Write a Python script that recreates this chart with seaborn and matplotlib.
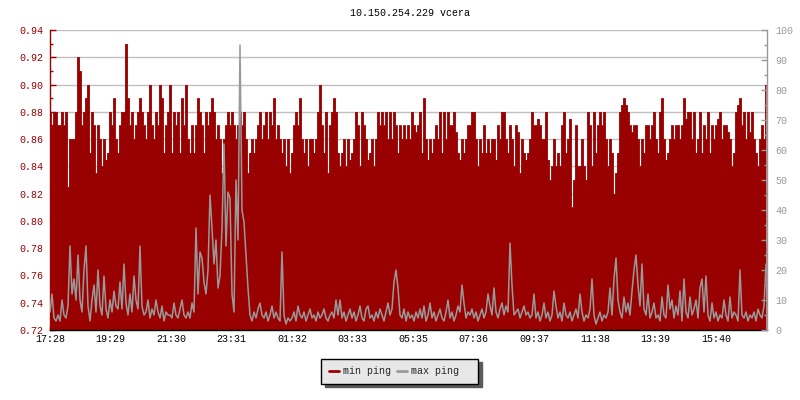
import numpy as np
import pandas as pd
import matplotlib
matplotlib.use("Agg")
import matplotlib.pyplot as plt
from matplotlib.lines import Line2D
from matplotlib.ticker import MultipleLocator, FormatStrFormatter
import seaborn as sns

# --- data: one sample every 4 minutes, starting at 17:28 ---
title = "10.150.254.229 vcera"
step_min = 4
tick_labels = ["17:28", "19:29", "21:30", "23:31", "01:32", "03:33",
               "05:35", "07:36", "09:37", "11:38", "13:39", "15:40"]
tick_every_min = 121.08

# min ping (ms), left axis
min_ping = [
    0.88, 0.87, 0.88, 0.88, 0.87, 0.87, 0.88, 0.87, 0.88, 0.825,
    0.86, 0.86, 0.86, 0.88, 0.92, 0.91, 0.87, 0.88, 0.89, 0.90,
    0.85, 0.88, 0.87, 0.835, 0.87, 0.86, 0.84, 0.86, 0.845, 0.85,
    0.88, 0.87, 0.89, 0.86, 0.85, 0.87, 0.88, 0.88, 0.93, 0.89,
    0.87, 0.88, 0.86, 0.87, 0.88, 0.89, 0.88, 0.87, 0.86, 0.88,
    0.90, 0.87, 0.86, 0.88, 0.87, 0.90, 0.89, 0.85, 0.87, 0.88,
    0.90, 0.85, 0.88, 0.87, 0.88, 0.85, 0.89, 0.87, 0.90, 0.86,
    0.85, 0.87, 0.85, 0.87, 0.89, 0.88, 0.87, 0.85, 0.88, 0.87,
    0.88, 0.89, 0.88, 0.86, 0.87, 0.86, 0.835, 0.86, 0.87, 0.88,
    0.87, 0.88, 0.87, 0.86, 0.87, 0.88, 0.87, 0.88, 0.86, 0.835,
    0.85, 0.86, 0.85, 0.86, 0.87, 0.88, 0.86, 0.87, 0.88, 0.86,
    0.88, 0.87, 0.89, 0.86, 0.87, 0.86, 0.85, 0.86, 0.84, 0.86,
    0.835, 0.85, 0.87, 0.88, 0.87, 0.89, 0.86, 0.85, 0.86, 0.84,
    0.86, 0.86, 0.85, 0.86, 0.88, 0.90, 0.87, 0.85, 0.88, 0.835,
    0.87, 0.88, 0.89, 0.88, 0.85, 0.84, 0.85, 0.86, 0.84, 0.86,
    0.845, 0.85, 0.86, 0.88, 0.87, 0.84, 0.88, 0.87, 0.86, 0.845,
    0.85, 0.86, 0.84, 0.86, 0.88, 0.87, 0.88, 0.87, 0.88, 0.86,
    0.88, 0.86, 0.88, 0.87, 0.85, 0.87, 0.86, 0.87, 0.86, 0.87,
    0.86, 0.88, 0.87, 0.865, 0.87, 0.88, 0.85, 0.89, 0.86, 0.845,
    0.86, 0.85, 0.86, 0.87, 0.86, 0.88, 0.85, 0.88, 0.86, 0.88,
    0.87, 0.87, 0.88, 0.865, 0.85, 0.845, 0.86, 0.85, 0.86, 0.87,
    0.87, 0.88, 0.88, 0.86, 0.84, 0.86, 0.85, 0.87, 0.85, 0.86,
    0.85, 0.86, 0.86, 0.845, 0.87, 0.86, 0.88, 0.88, 0.86, 0.85,
    0.87, 0.86, 0.84, 0.87, 0.865, 0.835, 0.86, 0.85, 0.845, 0.85,
    0.86, 0.88, 0.87, 0.87, 0.875, 0.87, 0.86, 0.86, 0.88, 0.845,
    0.83, 0.84, 0.86, 0.84, 0.85, 0.84, 0.87, 0.88, 0.85, 0.86,
    0.875, 0.81, 0.83, 0.87, 0.84, 0.84, 0.86, 0.84, 0.83, 0.88,
    0.87, 0.84, 0.88, 0.85, 0.87, 0.88, 0.87, 0.88, 0.86, 0.84,
    0.86, 0.85, 0.82, 0.835, 0.85, 0.88, 0.885, 0.89, 0.885, 0.88,
    0.87, 0.865, 0.87, 0.87, 0.86, 0.84, 0.86, 0.85, 0.87, 0.87,
    0.86, 0.87, 0.88, 0.86, 0.85, 0.88, 0.89, 0.86, 0.845, 0.85,
    0.86, 0.87, 0.86, 0.87, 0.87, 0.86, 0.87, 0.89, 0.875, 0.88,
    0.88, 0.86, 0.88, 0.85, 0.86, 0.88, 0.85, 0.87, 0.86, 0.88,
    0.85, 0.87, 0.86, 0.87, 0.875, 0.88, 0.86, 0.87, 0.87, 0.865,
    0.86, 0.84, 0.85, 0.88, 0.885, 0.89, 0.87, 0.88, 0.86, 0.88,
    0.865, 0.88, 0.86, 0.85, 0.84, 0.86, 0.87, 0.86, 0.90,
]

# max ping, right axis
max_ping = [
    6, 12, 4, 3, 5, 3, 10, 5, 4, 8,
    28, 12, 17, 10, 25, 10, 6, 20, 28, 8,
    3, 10, 15, 6, 20, 8, 5, 18, 7, 4,
    10, 6, 13, 8, 7, 16, 7, 22, 9, 5,
    12, 6, 18, 10, 7, 28, 8, 5, 6, 10,
    4, 7, 5, 10, 6, 4, 8, 3, 6, 5,
    5, 4, 9, 5, 4, 7, 10, 5, 4, 6,
    4, 9, 6, 34, 12, 26, 24, 16, 12, 20,
    45, 34, 22, 30, 14, 18, 34, 62, 28, 46,
    44, 12, 6, 50, 30, 95, 40, 36, 25, 14,
    5, 3, 6, 4, 7, 9, 5, 4, 6, 3,
    5, 8, 4, 6, 4, 3, 26, 5, 2, 4,
    3, 4, 6, 3, 8, 5, 4, 6, 3, 5,
    7, 4, 5, 3, 6, 4, 5, 7, 4, 3,
    5, 6, 4, 10, 5, 10, 4, 6, 3, 5,
    7, 4, 6, 3, 5, 8, 4, 3, 7, 8,
    4, 5, 3, 6, 4, 7, 5, 3, 6, 9,
    5, 7, 16, 20, 14, 5, 4, 7, 3, 6,
    4, 5, 3, 6, 4, 7, 4, 8, 3, 5,
    9, 4, 6, 3, 5, 7, 4, 3, 6, 10,
    4, 6, 3, 5, 8, 6, 15, 9, 4, 6,
    5, 7, 4, 6, 3, 5, 7, 4, 6, 12,
    8, 5, 14, 6, 4, 7, 9, 5, 8, 6,
    29, 15, 5, 6, 7, 4, 6, 8, 5, 6,
    4, 5, 12, 4, 6, 3, 5, 9, 4, 6,
    3, 5, 13, 8, 4, 6, 3, 9, 5, 4,
    6, 3, 5, 7, 4, 12, 6, 3, 5, 4,
    7, 17, 5, 2, 4, 6, 3, 5, 4, 6,
    14, 5, 17, 24, 10, 6, 4, 11, 6, 9,
    5, 13, 20, 25, 15, 8, 22, 7, 5, 12,
    4, 6, 9, 4, 5, 3, 11, 5, 4, 15,
    7, 10, 4, 8, 5, 13, 3, 17, 6, 4,
    11, 5, 7, 10, 4, 14, 17, 6, 18, 5,
    3, 9, 4, 6, 3, 5, 4, 10, 5, 3,
    11, 4, 6, 5, 3, 20, 5, 4, 6, 3,
    5, 4, 6, 3, 7, 5, 4, 8, 22,
]

RED = "#990000"
GRAY = "#999999"

df = pd.DataFrame({
    "minute": np.arange(len(min_ping)) * step_min,
    "min_ping": min_ping,
    "max_ping": max_ping,
})

sns.set_theme(style="white")
plt.rcParams["font.family"] = ["Liberation Mono", "DejaVu Sans Mono"]
fs = 7.2

fig = plt.figure(figsize=(8, 4), dpi=100)
ax = fig.add_axes([0.0625, 0.175, 0.89625, 0.75])

# left axis: min ping as filled area
ax.fill_between(df["minute"], 0.72, df["min_ping"], step="mid",
                color=RED, linewidth=0, zorder=2)
sns.lineplot(data=df, x="minute", y="min_ping", ax=ax, color=RED,
             linewidth=0.6, drawstyle="steps-mid", zorder=2)
ax.set_ylim(0.72, 0.94)
ax.set_xlim(0, (len(min_ping) - 0.5) * step_min)
ax.yaxis.set_major_locator(MultipleLocator(0.02))
ax.yaxis.set_minor_locator(MultipleLocator(0.01))
ax.yaxis.set_major_formatter(FormatStrFormatter("%.2f"))
ax.set_axisbelow(True)
ax.grid(axis="y", color="#c0c0c0", linewidth=1.0, zorder=0)
ax.grid(axis="x", visible=False)
ax.set_xlabel("")
ax.set_ylabel("")

ax.set_xticks([i * tick_every_min for i in range(len(tick_labels))])
ax.set_xticklabels(tick_labels)

ax.tick_params(axis="y", which="both", direction="in", colors=RED,
               labelcolor=RED, labelsize=fs, pad=5, left=True)
ax.tick_params(axis="y", which="major", length=4, width=1)
ax.tick_params(axis="y", which="minor", length=2.5, width=1)
ax.tick_params(axis="x", direction="in", length=3, width=1, colors="black",
               labelsize=fs, pad=3, bottom=True)

for side in ["top", "right"]:
    ax.spines[side].set_visible(False)
ax.spines["left"].set_color(RED)
ax.spines["bottom"].set_color("black")
ax.spines["left"].set_linewidth(1)
ax.spines["bottom"].set_linewidth(1)

# right axis: max ping line
ax2 = ax.twinx()
sns.lineplot(data=df, x="minute", y="max_ping", ax=ax2, color=GRAY,
             linewidth=1.1)
ax2.set_ylim(0, 100)
ax2.yaxis.set_major_locator(MultipleLocator(10))
ax2.yaxis.set_minor_locator(MultipleLocator(5))
ax2.set_ylabel("")
ax2.grid(False)
ax2.tick_params(axis="y", which="both", direction="in", colors=GRAY,
                labelcolor=GRAY, labelsize=fs, pad=6, right=True)
ax2.tick_params(axis="y", which="major", length=4, width=1)
ax2.tick_params(axis="y", which="minor", length=2.5, width=1)
for side in ["top", "left", "bottom"]:
    ax2.spines[side].set_visible(False)
ax2.spines["right"].set_color(GRAY)
ax2.spines["right"].set_linewidth(1)

fig.text(0.5125, 1 - 13 / 400, title, ha="center", va="center",
         fontsize=fs, color="black")

handles = [Line2D([], [], color=RED, linewidth=2),
           Line2D([], [], color=GRAY, linewidth=2)]
fig.legend(handles, ["min ping", "max ping  "], loc="center",
           bbox_to_anchor=(0.4994, 1 - 371 / 400), ncol=2, frameon=True,
           fancybox=False, edgecolor="black", facecolor="#e8e8e8",
           framealpha=1, fontsize=fs, handlelength=1.0, handletextpad=0.4,
           columnspacing=0.6, borderpad=0.75, borderaxespad=0,
           shadow={"ox": 2.8, "oy": -2.8, "color": "#5a5a5a", "alpha": 1})

fig.savefig("out.png", dpi=100)
